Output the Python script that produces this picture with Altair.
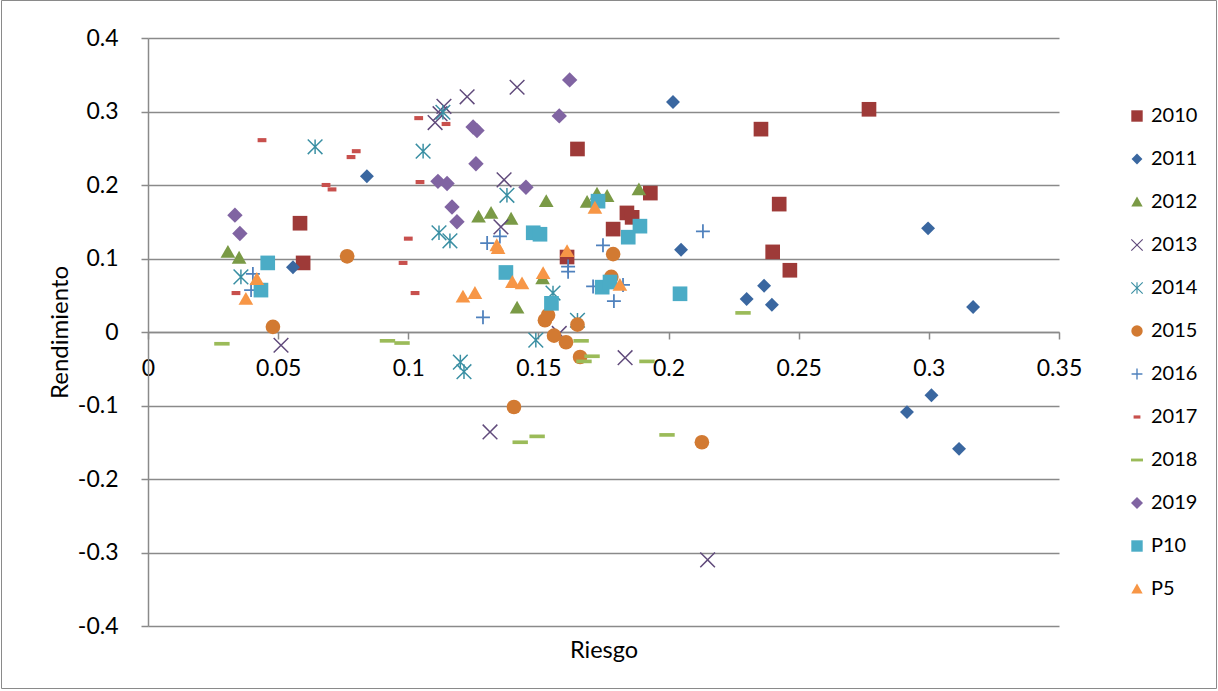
import math
import altair as alt
import pandas as pd

# ---------------- data ----------------
series_names = ["2010", "2011", "2012", "2013", "2014", "2015", "2016",
                "2017", "2018", "2019", "P10", "P5"]

riesgo_2010 = [0.0584, 0.0596, 0.165, 0.193, 0.184, 0.186, 0.1787, 0.161, 0.277, 0.2355, 0.2425, 0.240, 0.2466]
rend_2010 = [0.148, 0.094, 0.249, 0.189, 0.162, 0.156, 0.140, 0.102, 0.303, 0.276, 0.174, 0.109, 0.084]

riesgo_2011 = [0.0557, 0.0841, 0.2017, 0.2048, 0.230, 0.2367, 0.2397, 0.2997, 0.317, 0.301, 0.2916, 0.3116]
rend_2011 = [0.088, 0.212, 0.313, 0.112, 0.045, 0.063, 0.037, 0.141, 0.034, -0.086, -0.109, -0.159]

riesgo_2012 = [0.0307, 0.035, 0.127, 0.1318, 0.1395, 0.153, 0.1687, 0.1725, 0.1764, 0.1886, 0.1418, 0.1516]
rend_2012 = [0.109, 0.101, 0.157, 0.162, 0.154, 0.178, 0.177, 0.188, 0.185, 0.194, 0.033, 0.073]

riesgo_2013 = [0.0511, 0.1137, 0.1103, 0.1122, 0.1226, 0.1418, 0.1368, 0.1356, 0.1833, 0.158, 0.1314, 0.215]
rend_2013 = [-0.018, 0.307, 0.285, 0.297, 0.320, 0.333, 0.207, 0.143, -0.035, -0.002, -0.136, -0.310]

riesgo_2014 = [0.0357, 0.0642, 0.1057, 0.1133, 0.1118, 0.116, 0.1379, 0.1556, 0.149, 0.165, 0.120, 0.1214]
rend_2014 = [0.075, 0.252, 0.246, 0.299, 0.135, 0.124, 0.186, 0.053, -0.011, 0.016, -0.041, -0.054]

riesgo_2015 = [0.048, 0.0765, 0.1787, 0.178, 0.165, 0.1525, 0.1537, 0.156, 0.1606, 0.166, 0.1406, 0.2128]
rend_2015 = [0.007, 0.103, 0.106, 0.075, 0.010, 0.016, 0.023, -0.005, -0.014, -0.034, -0.102, -0.150]

riesgo_2016 = [0.0403, 0.0396, 0.1303, 0.1352, 0.1287, 0.1614, 0.1614, 0.1748, 0.171, 0.179, 0.1825, 0.2132]
rend_2016 = [0.079, 0.057, 0.121, 0.130, 0.020, 0.089, 0.082, 0.118, 0.062, 0.042, 0.064, 0.137]

riesgo_2017 = [0.0338, 0.0438, 0.078, 0.080, 0.0684, 0.0707, 0.104, 0.1145, 0.1045, 0.100, 0.098, 0.1026]
rend_2017 = [0.053, 0.261, 0.238, 0.246, 0.200, 0.194, 0.291, 0.283, 0.204, 0.127, 0.094, 0.053]

riesgo_2018 = [0.0284, 0.092, 0.0976, 0.1664, 0.1706, 0.1675, 0.1917, 0.2286, 0.143, 0.1495, 0.1994]
rend_2018 = [-0.016, -0.012, -0.015, -0.012, -0.033, -0.040, -0.040, 0.026, -0.150, -0.142, -0.140]

riesgo_2019 = [0.0353, 0.0334, 0.1114, 0.1149, 0.1168, 0.1187, 0.1249, 0.1264, 0.126, 0.162, 0.158, 0.1452]
rend_2019 = [0.134, 0.159, 0.205, 0.202, 0.170, 0.150, 0.279, 0.274, 0.229, 0.343, 0.294, 0.197]

riesgo_p10 = [0.046, 0.0434, 0.148, 0.1506, 0.1729, 0.189, 0.1845, 0.1375, 0.155, 0.1745, 0.1775, 0.2044]
rend_p10 = [0.094, 0.057, 0.135, 0.133, 0.178, 0.144, 0.129, 0.081, 0.039, 0.061, 0.068, 0.052]

riesgo_p5 = [0.0418, 0.0376, 0.121, 0.1256, 0.134, 0.1345, 0.161, 0.1717, 0.1518, 0.140, 0.1437, 0.1813]
rend_p5 = [0.072, 0.045, 0.048, 0.053, 0.118, 0.114, 0.110, 0.169, 0.080, 0.068, 0.066, 0.064]

x_ticks = [0, 0.05, 0.1, 0.15, 0.2, 0.25, 0.3, 0.35]
y_ticks = [-0.4, -0.3, -0.2, -0.1, 0, 0.1, 0.2, 0.3, 0.4]

series_colors = ["#9E3A38", "#3A67A0", "#7A9A46", "#604A7B", "#3A8FA3", "#D27A32",
                 "#4F81BD", "#C8504D", "#9BBB59", "#8064A2", "#4BACC6", "#F79646"]

# ---------------- marker shapes (unit square paths) ----------------
def star(angles, lengths, w):
    pts = []
    n = len(angles)
    for i in range(n):
        t = math.radians(angles[i])
        L = lengths[i]
        ux, uy = math.cos(t), math.sin(t)
        nx, ny = -math.sin(t), math.cos(t)
        pts.append((L * ux - w * nx, L * uy - w * ny))
        pts.append((L * ux + w * nx, L * uy + w * ny))
        a2 = angles[(i + 1) % n] + (360 if i == n - 1 else 0)
        t2 = math.radians(a2)
        phi = t2 - t
        mid = (t + t2) / 2
        r = w / math.sin(phi / 2)
        pts.append((r * math.cos(mid), r * math.sin(mid)))
    return "M" + "L".join(f"{x:.3f},{y:.3f}" for x, y in pts) + "Z"

def rect(hw, hh):
    return f"M{-hw},{-hh}L{hw},{-hh}L{hw},{hh}L{-hw},{hh}Z"

def diamond(r):
    return f"M0,{-r}L{r},0L0,{r}L{-r},0Z"

tri = "M0,-0.95L1,0.8L-1,0.8Z"
s2 = math.sqrt(2)
series_shapes = [
    rect(1, 1),                                             # 2010 square
    diamond(0.95),                                          # 2011 diamond
    tri,                                                    # 2012 triangle
    star([45, 135, 225, 315], [s2] * 4, 0.1),               # 2013 x
    star([45, 90, 135, 225, 270, 315], [s2, 1, s2, s2, 1, s2], 0.1),  # 2014 asterisk
    "circle",                                               # 2015 circle
    star([0, 90, 180, 270], [0.95] * 4, 0.12),              # 2016 plus
    rect(0.6, 0.28),                                        # 2017 short dash
    rect(1.05, 0.25),                                       # 2018 long dash
    diamond(1.05),                                          # 2019 diamond
    rect(1, 1),                                             # P10 square
    tri,                                                    # P5 triangle
]

xs = [riesgo_2010, riesgo_2011, riesgo_2012, riesgo_2013, riesgo_2014, riesgo_2015,
      riesgo_2016, riesgo_2017, riesgo_2018, riesgo_2019, riesgo_p10, riesgo_p5]
ys = [rend_2010, rend_2011, rend_2012, rend_2013, rend_2014, rend_2015,
      rend_2016, rend_2017, rend_2018, rend_2019, rend_p10, rend_p5]

rows = []
for name, xv, yv in zip(series_names, xs, ys):
    for a, b in zip(xv, yv):
        rows.append({"serie": name, "riesgo": a, "rendimiento": b})
df = pd.DataFrame(rows)

FONT = "Lato"
GRID = "#8a8a8a"

legend = alt.Legend(
    title=None, orient="none", legendX=979, legendY=68,
    labelFont=FONT, labelFontSize=20, labelColor="black", labelOffset=4,
    symbolSize=130, rowPadding=23, symbolStrokeWidth=0,
)

points = alt.Chart(df).mark_point(filled=True, opacity=1, size=215).encode(
    x=alt.X("riesgo:Q",
            scale=alt.Scale(domain=[0, 0.35], nice=False, zero=False),
            axis=alt.Axis(values=x_ticks, grid=False, offset=-294,
                          labelExpr="datum.value == 0 ? '0' : toString(round(datum.value*100)/100)",
                          labelFlush=False, labelOverlap=False,
                          labelFont=FONT, labelFontSize=23, labelColor="black",
                          labelPadding=18, tickSize=7, tickColor=GRID, tickWidth=1.5,
                          domainColor=GRID, domainWidth=1.5,
                          title="Riesgo", titleFont=FONT, titleFontSize=23.5,
                          titleFontWeight="normal", titleColor="black",
                          titleX=455.5, titleY=318, titleBaseline="middle")),
    y=alt.Y("rendimiento:Q",
            scale=alt.Scale(domain=[-0.4, 0.4], nice=False, zero=False),
            axis=alt.Axis(values=y_ticks, grid=True, gridColor=GRID, gridWidth=1.5,
                          labelExpr="datum.value == 0 ? '0' : toString(round(datum.value*10)/10)",
                          labelOverlap=False,
                          labelFont=FONT, labelFontSize=23, labelColor="black",
                          labelPadding=23, tickSize=7, tickColor=GRID, tickWidth=1.5,
                          domainColor=GRID, domainWidth=1.5,
                          title="Rendimiento", titleFont=FONT, titleFontSize=24,
                          titleFontWeight="normal", titleColor="black",
                          titleAngle=-90, titleX=-88, titleY=294,
                          titleBaseline="middle", titleAlign="center")),
    color=alt.Color("serie:N", scale=alt.Scale(domain=series_names, range=series_colors),
                    legend=legend),
    shape=alt.Shape("serie:N", scale=alt.Scale(domain=series_names, range=series_shapes),
                    legend=legend),
    order=alt.Order("idx:Q"),
).transform_window(
    idx="row_number()"
)

# thin frame around the whole chart area (decoration, like the Excel chart border)
frame = alt.Chart(pd.DataFrame({"k": [0]})).mark_rect(
    fill="transparent", stroke="#8a8a8a", strokeWidth=1
).encode(
    x=alt.value(-146.5), x2=alt.value(1068.5),
    y=alt.value(-37.5), y2=alt.value(650.5),
)

chart = alt.layer(frame, points).properties(
    width=911, height=588,
    autosize=alt.AutoSizeParams(type="none"),
    padding={"left": 148, "top": 38, "right": 159, "bottom": 65},
    background="white",
).configure_view(stroke="transparent")

chart.save("out.html", embed_options={"renderer": "svg", "actions": False})
